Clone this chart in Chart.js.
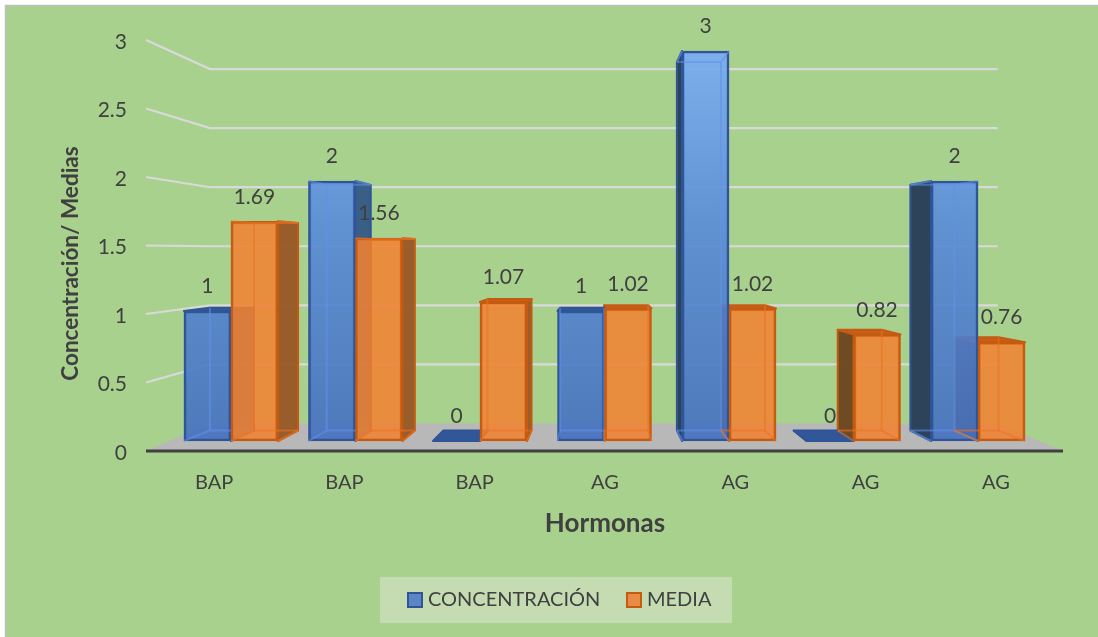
<!DOCTYPE html>
<html>
<head>
<meta charset="utf-8">
<title>Hormonas</title>
<style>
  html, body { margin: 0; padding: 0; background: #fff; }
  #wrap { position: relative; width: 1098px; height: 637px; }
</style>
<script src="https://cdn.jsdelivr.net/npm/chart.js@4/dist/chart.umd.min.js"></script>
</head>
<body>
<div id="wrap"><canvas id="hormonasChart" width="1098" height="637"></canvas></div>
<script>
const categories = ['BAP', 'BAP', 'BAP', 'AG', 'AG', 'AG', 'AG'];
const barPositions = [0, 1, 2, 3, 4, 5, 6];
const concentracion = [1, 2, 0, 1, 3, 0, 2];
const media = [1.69, 1.56, 1.07, 1.02, 1.02, 0.82, 0.76];
const valueTicks = [0, 0.5, 1, 1.5, 2, 2.5, 3];

const FONT = 'Lato, Carlito, sans-serif';
const TEXT = '#404040';

// perspective of the box: everything recedes towards one point
const VP = { x: 600, y: 251 };
const BAR_DEPTH = { x: 0.9375, y: 0.945 };
const WALL_DEPTH = { x: 0.859, y: 0.862 };
const WALL = { left: 146, right: 1063 };

const canvas = document.getElementById('hormonasChart');
const ctx = canvas.getContext('2d');

// blue front faces get lighter towards the top of the plot
const blueFill = ctx.createLinearGradient(0, 50, 0, 441);
blueFill.addColorStop(0, 'rgba(122,172,245,0.92)');
blueFill.addColorStop(0.45, 'rgba(88,138,216,0.9)');
blueFill.addColorStop(1, 'rgba(68,112,192,0.9)');

const faceStyles = [
  { left: 'rgba(40,62,88,0.97)', right: 'rgba(52,88,135,0.95)', top: 'rgba(38,78,150,0.92)', edge: '#2f5597', inner: 'rgba(96,146,232,0.55)' },
  { left: 'rgba(108,70,32,0.97)', right: 'rgba(152,88,38,0.96)', top: 'rgba(197,90,17,0.95)', edge: '#c55a11', inner: 'rgba(235,115,35,0.55)' }
];

function back(px, py, depth) {
  return [VP.x + (px - VP.x) * depth.x, VP.y + (py - VP.y) * depth.y];
}

function poly(c, pts, fill, stroke) {
  c.beginPath();
  pts.forEach((p, i) => (i ? c.lineTo(p[0], p[1]) : c.moveTo(p[0], p[1])));
  c.closePath();
  if (fill) { c.fillStyle = fill; c.fill(); }
  if (stroke) { c.strokeStyle = stroke; c.lineWidth = 2; c.lineJoin = 'round'; c.stroke(); }
}

function line(c, a, b, color, width) {
  c.beginPath();
  c.moveTo(a[0], a[1]);
  c.lineTo(b[0], b[1]);
  c.strokeStyle = color;
  c.lineWidth = width;
  c.stroke();
}

function barCorners(el) {
  const { x, y, base, width } = el.getProps(['x', 'y', 'base', 'width'], true);
  const l = x - width / 2, r = x + width / 2;
  return {
    l, r, y, base,
    fTL: [l, y], fTR: [r, y], fBL: [l, base], fBR: [r, base],
    bTL: back(l, y, BAR_DEPTH), bTR: back(r, y, BAR_DEPTH),
    bBL: back(l, base, BAR_DEPTH), bBR: back(r, base, BAR_DEPTH)
  };
}

// faces that stick out behind the front rectangle
function drawOuterFaces(c, el, style) {
  const b = barCorners(el);
  if (b.bTL[0] < b.l) poly(c, [b.fTL, b.bTL, b.bBL, b.fBL], style.left, style.edge);
  if (b.bTR[0] > b.r) poly(c, [b.fTR, b.bTR, b.bBR, b.fBR], style.right, style.edge);
  if (b.bTL[1] < b.y) poly(c, [b.fTL, b.bTL, b.bTR, b.fTR], style.top, style.edge);
}

// front rectangle, then the edges seen through it
function drawFront(c, el, style) {
  const b = barCorners(el);
  el.draw(c);
  if (b.base - b.y <= 1) return;
  if (b.bTL[0] >= b.l) line(c, b.bTL, b.bBL, style.inner, 2);
  if (b.bTR[0] <= b.r) line(c, b.bTR, b.bBR, style.inner, 2);
  if (b.bTL[1] >= b.y) {
    line(c, b.bTL, b.bTR, style.inner, 2);
    line(c, b.fTL, b.bTL, style.inner, 2);
    line(c, b.fTR, b.bTR, style.inner, 2);
  }
  line(c, b.bBL, b.bBR, style.inner, 2);
  line(c, b.fBL, b.bBL, style.inner, 2);
  line(c, b.fBR, b.bBR, style.inner, 2);
}

const boxPlugin = {
  id: 'box3d',
  beforeDraw(chart) {
    const c = chart.ctx;
    c.save();
    c.fillStyle = '#a9d18e';
    c.fillRect(6, 6, 1092, 631);
    c.strokeStyle = '#bfbfbf';
    c.lineWidth = 1.5;
    c.beginPath();
    c.moveTo(5.5, 637);
    c.lineTo(5.5, 5.5);
    c.lineTo(1098, 5.5);
    c.stroke();

    // floor
    const y0 = chart.scales.y.getPixelForValue(0);
    const floorL = back(WALL.left, y0, WALL_DEPTH), floorR = back(WALL.right, y0, WALL_DEPTH);
    poly(c, [[WALL.left, y0], [WALL.right, y0], floorR, floorL], '#b8b8b8');

    // gridlines run along the left wall, then across the back
    valueTicks.forEach(v => {
      if (v === 0) return;
      const py = chart.scales.y.getPixelForValue(v);
      const bl = back(WALL.left, py, WALL_DEPTH), br = back(WALL.right, py, WALL_DEPTH);
      c.beginPath();
      c.moveTo(WALL.left, py);
      c.lineTo(bl[0], bl[1]);
      c.lineTo(br[0], bl[1]);
      c.strokeStyle = '#d9d9d9';
      c.lineWidth = 2.2;
      c.stroke();
    });

    line(c, [WALL.left, y0], [WALL.right, y0], '#404040', 3);
    c.restore();
  },
  // orange sides go behind the blue bars, orange fronts go over them
  beforeDatasetsDraw(chart) {
    const c = chart.ctx;
    const blue = chart.getDatasetMeta(0).data;
    const orange = chart.getDatasetMeta(1).data;
    c.save();
    orange.forEach(el => drawOuterFaces(c, el, faceStyles[1]));
    blue.forEach(el => {
      drawOuterFaces(c, el, faceStyles[0]);
      drawFront(c, el, faceStyles[0]);
    });
    orange.forEach(el => drawFront(c, el, faceStyles[1]));

    c.fillStyle = TEXT;
    c.font = '21px ' + FONT;
    c.textAlign = 'center';
    c.textBaseline = 'middle';
    chart.data.datasets.forEach((ds, i) => {
      chart.getDatasetMeta(i).data.forEach((el, k) => {
        c.fillText(String(ds.data[k].y), el.x, el.y - 24.5);
      });
    });
    c.restore();
    return false;
  },
  afterDraw(chart) {
    const c = chart.ctx;
    c.save();
    c.fillStyle = TEXT;
    c.textBaseline = 'middle';
    c.textAlign = 'center';

    // y axis title sits lower than the middle of the axis
    c.save();
    c.translate(71, 263.5);
    c.rotate(-Math.PI / 2);
    c.font = 'bold 22.5px ' + FONT;
    c.fillText('Concentración/ Medias', 0, 0);
    c.restore();

    // legend panel
    c.fillStyle = '#c5dcb2';
    c.fillRect(380, 577, 352, 46);
    const entries = [[408, 428], [627, 647]];
    chart.data.datasets.forEach((ds, i) => {
      const [sx, tx] = entries[i];
      c.fillStyle = i ? '#e88b45' : '#5b85c6';
      c.strokeStyle = faceStyles[i].edge;
      c.lineWidth = 2;
      c.fillRect(sx, 593, 14, 14);
      c.strokeRect(sx, 593, 14, 14);
      c.fillStyle = TEXT;
      c.font = '20px ' + FONT;
      c.textAlign = 'left';
      c.fillText(ds.label, tx, 600);
    });
    c.restore();
  }
};

new Chart(ctx, {
  type: 'bar',
  data: {
    labels: categories,
    datasets: [
      {
        label: 'CONCENTRACIÓN',
        data: barPositions.map((p, i) => ({ x: p, y: concentracion[i] })),
        backgroundColor: blueFill,
        borderColor: '#2f5597',
        borderWidth: 2.5,
        borderSkipped: false,
        barThickness: 47,
        xAxisID: 'xBars',
        yAxisID: 'yBars'
      },
      {
        label: 'MEDIA',
        data: barPositions.map((p, i) => ({ x: p, y: media[i] })),
        backgroundColor: 'rgba(240,130,50,0.88)',
        borderColor: '#c55a11',
        borderWidth: 2.5,
        borderSkipped: false,
        barThickness: 47,
        xAxisID: 'xBars',
        yAxisID: 'yBars'
      }
    ]
  },
  options: {
    responsive: false,
    animation: false,
    layout: { padding: { left: 0, right: 37, top: 40, bottom: 0 } },
    plugins: { legend: { display: false }, tooltip: { enabled: false } },
    scales: {
      // wall axes: labels sit on the front edge of the box
      x: {
        type: 'category',
        grid: { display: false, drawTicks: false },
        border: { display: false },
        ticks: { color: TEXT, font: { family: FONT, size: 20 }, padding: 20, maxRotation: 0, autoSkip: false },
        title: {
          display: true,
          text: 'Hormonas',
          color: TEXT,
          font: { family: FONT, size: 26, weight: 'bold' },
          padding: { top: 0, bottom: 98 }
        },
        afterFit(scale) { scale.height = 186; }
      },
      y: {
        type: 'linear',
        min: 0,
        max: 3,
        grid: { display: false, drawTicks: false },
        border: { display: false },
        afterBuildTicks(scale) { scale.ticks = valueTicks.map(v => ({ value: v })); },
        ticks: {
          color: TEXT,
          font: { family: FONT, size: 21 },
          padding: 22,
          labelOffset: 2,
          callback: v => String(v)
        },
        afterFit(scale) { scale.width = 149; }
      },
      // bars stand a little further back, so they use slightly tighter scales
      xBars: { type: 'linear', axis: 'x', display: false, offset: false, min: -0.658, max: 6.666 },
      yBars: { type: 'linear', axis: 'y', display: false, min: -10 / 130, max: 401 / 130 }
    }
  },
  plugins: [boxPlugin]
});
</script>
</body>
</html>
